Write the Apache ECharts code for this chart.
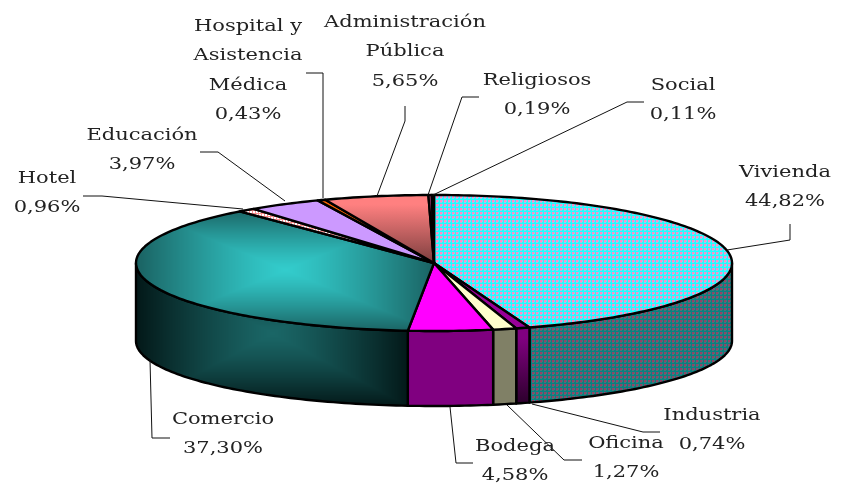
<!DOCTYPE html>
<html><head><meta charset="utf-8">
<style>html,body{margin:0;padding:0;background:#fff}#c{width:843px;height:484px}</style>
<script src="https://cdn.jsdelivr.net/npm/echarts@6/dist/echarts.min.js"></script>
</head><body><div id="c"></div>
<script>
const categories=['Vivienda','Industria','Oficina','Bodega','Comercio','Hotel','Educación','Hospital y\nAsistencia\nMédica','Administración\nPública','Religiosos','Social'];
const shares=[44.82,0.74,1.27,4.58,37.30,0.96,3.97,0.43,5.65,0.19,0.11];
const percentLabels=['44,82%','0,74%','1,27%','4,58%','37,30%','0,96%','3,97%','0,43%','5,65%','0,19%','0,11%'];

// --- layout only below ---
const W=843,H=484;
const TOP={cx:434,cy:263,rx:298,ry:68};
const BOT={cx:434,cy:341,rx:298,ry:65};
const labelPos=[[785,172],[712,415],[626,443],[515,446],[223,419],[47,178],[142,135],[248,26],[405,22],[537,80],[683,85]];
const LINE_H=29.5;
const leaders=[
 [[727,250],[790,240],[790,224]],
 [[532,404],[643,432],[660,432]],
 [[507,405],[564,460],[582,460]],
 [[450,407],[456,463],[473,463]],
 [[150,360],[152,438],[170,438]],
 [[243,209],[102,196],[83,196]],
 [[285,201],[218,152],[200,152]],
 [[323,198],[323,73],[306,73]],
 [[377,196],[405,121],[405,106]],
 [[428,195],[462,97],[479,97]],
 [[433,195],[627,102],[644,102]]
];
function tile(size,paint){const c=document.createElement('canvas');c.width=c.height=size;paint(c.getContext('2d'));return {image:c,repeat:'repeat'};}
function pathGradient(box,inner,outer){
  const c=document.createElement('canvas');c.width=W;c.height=H;const g=c.getContext('2d');const d=g.createImageData(W,H);
  const mx=(box[0]+box[2])/2,my=(box[1]+box[3])/2,a=(box[2]-box[0])/2,b=(box[3]-box[1])/2;
  for(let y=0;y<H;y++)for(let x=0;x<W;x++){
    const t=Math.pow(Math.min(1,Math.max(Math.abs(x-mx)/a,Math.abs(y-my)/b)),1.25);
    const i=(y*W+x)*4;
    for(let k=0;k<3;k++)d.data[i+k]=inner[k]+(outer[k]-inner[k])*t;
    d.data[i+3]=255;
  }
  g.putImageData(d,0,0);
  return {image:c,repeat:'no-repeat'};
}
const vg=(a,b,s)=>new echarts.graphic.LinearGradient(0,0,0,1,[{offset:0,color:a},{offset:s||0,color:a},{offset:1,color:b}]);
const topFill=[
 tile(4,g=>{g.fillStyle='#20FFFF';g.fillRect(0,0,4,4);g.fillStyle='#FF8FC8';g.fillRect(0,0,2,2);g.fillStyle='#A0C8EE';g.fillRect(2,0,1,2);g.fillRect(0,2,2,1);}),
 '#990099','#FFFFCC','#FF00FF',
 pathGradient([136,208,434,331],[51,204,204],[26,98,98]),
 tile(3,g=>{g.fillStyle='#fff';g.fillRect(0,0,3,3);g.fillStyle='#FF9090';g.fillRect(0,0,1,3);g.fillRect(0,0,3,1);}),
 '#CC99FF','#FF6600',vg('#FF8080','#7A3D3D',0.15),vg('#A03A70','#5A2040'),'#7A2A50'
];
const sideFill=[
 tile(4,g=>{g.fillStyle='#0A8080';g.fillRect(0,0,4,4);g.fillStyle='#904468';g.fillRect(0,0,2,2);g.fillStyle='#4F7276';g.fillRect(2,0,1,2);g.fillRect(0,2,2,1);}),
 vg('#800080','#2A002A',0.15),'#808066','#800080',
 pathGradient([136,260,408,406],[26,102,102],[3,24,24]),
 '#804040','#664C80','#803300','#804040','#4C1A33','#401020'
];
const total=shares.reduce((a,b)=>a+b,0);
const cums=[];shares.reduce((a,b,i)=>{cums[i]=a;return a+b;},0);
const onEllipse=(e,th)=>[e.cx+e.rx*Math.sin(th),e.cy-e.ry*Math.cos(th)];
function arc(e,a,b){const n=Math.max(2,Math.ceil(Math.abs(b-a)/0.02));const p=[];for(let i=0;i<=n;i++)p.push(onEllipse(e,a+(b-a)*i/n));return p;}

function renderItem(params,api){
  const i=params.dataIndex;
  const v=api.value(0), s=api.value(1);
  const a=s/total*2*Math.PI, b=(s+v)/total*2*Math.PI;
  const kids=[];
  const from=Math.max(a,Math.PI/2), to=Math.min(b,Math.PI*1.5);
  if(to>from){
    const up=arc(TOP,from,to), dn=arc(BOT,to,from);
    kids.push({type:'polygon',shape:{points:up.concat(dn)},style:{fill:sideFill[i],stroke:'#000',lineWidth:2.4,lineJoin:'round'}});
  }
  kids.push({type:'polygon',shape:{points:[[TOP.cx,TOP.cy]].concat(arc(TOP,a,b))},style:{fill:topFill[i],stroke:'#000',lineWidth:2.4,lineJoin:'round'}});
  kids.push({type:'polyline',z2:5,shape:{points:leaders[i]},style:{fill:null,stroke:'#111',lineWidth:1}});
  const lines=categories[i].split('\n').concat(percentLabels[i]);
  lines.forEach((t,k)=>kids.push({type:'text',z2:6,x:labelPos[i][0],y:labelPos[i][1]+k*LINE_H,scaleX:1.2,style:{text:t,x:0,y:0,align:'center',verticalAlign:'middle',fill:'#222',font:'17.5px "DejaVu Serif"'}}));
  return {type:'group',children:kids};
}
const chart=echarts.init(document.getElementById('c'),null,{renderer:'canvas',width:W,height:H});
chart.setOption({animation:false,backgroundColor:'#fff',series:[{type:'custom',coordinateSystem:'none',renderItem,
  data:shares.map((v,i)=>({name:categories[i],value:[v,cums[i]]}))}]});
</script></body></html>
